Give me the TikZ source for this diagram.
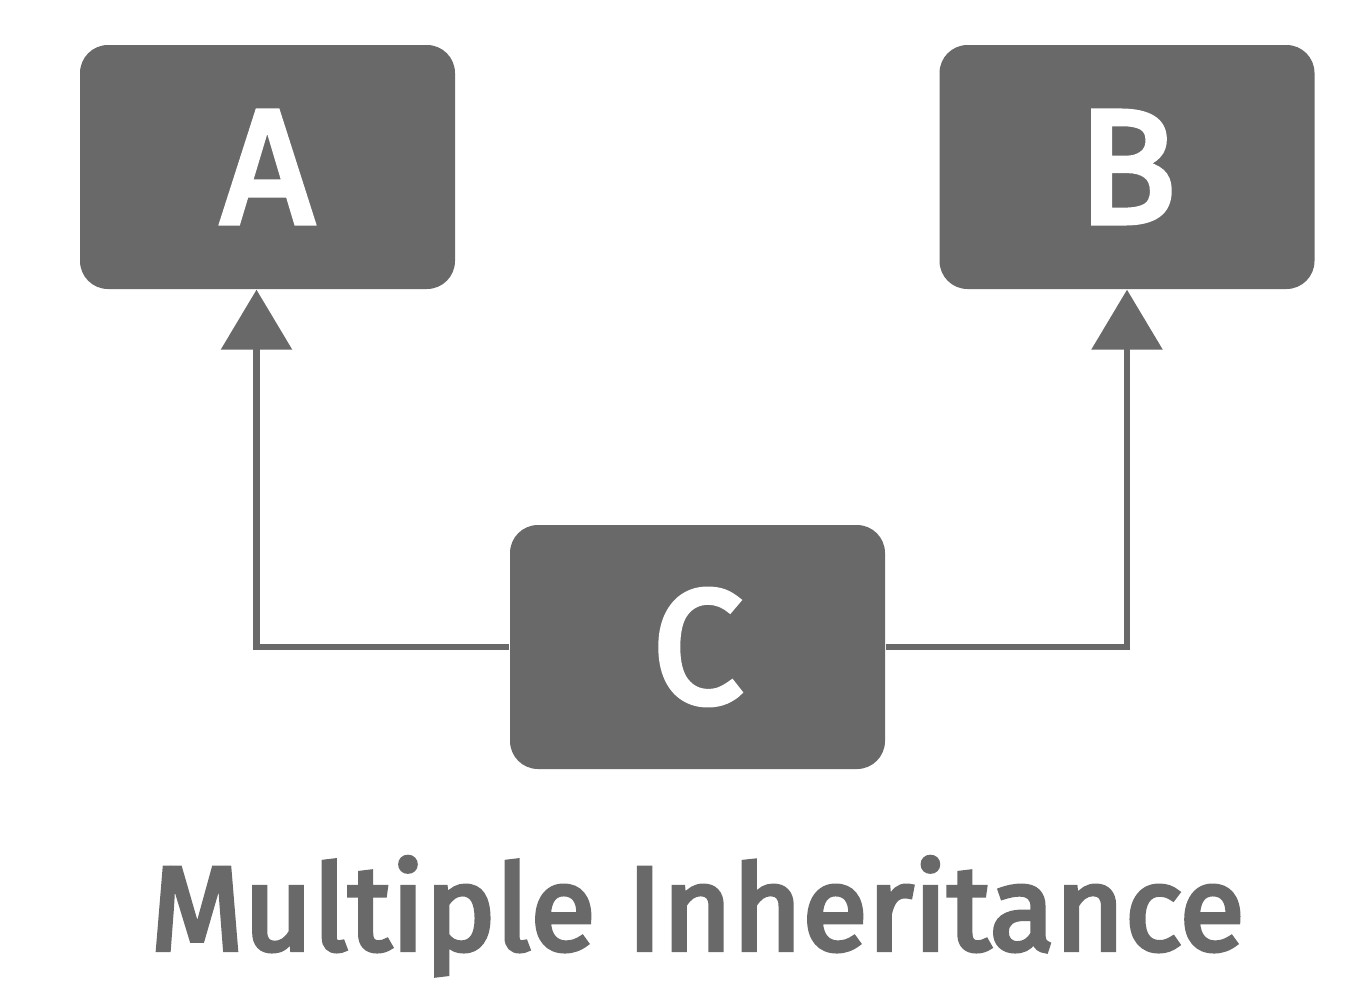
\documentclass[tikz,border=0pt]{standalone}
\usepackage{fontspec}
\setmainfont{Fira Sans}
\newfontfamily\mediumfont{Fira Sans}[FakeBold=3.5]
\usepackage{xcolor}
\usetikzlibrary{
    positioning,
    arrows.meta,
    calc
}
\definecolor{boxgray}{HTML}{686968}
\tikzset{
    % クラスのブロックスタイル
    block/.style={
        rectangle,
        rounded corners=2.8mm,   % 角の丸み
        fill=boxgray,
        draw=none,
        minimum width=3.75cm,
        minimum height=2.44cm,
        text=white,
        font=\mediumfont\fontsize{46}{50}\selectfont
    },
    % 継承の矢印
    arrow/.style={
        -{Triangle[length=6mm, width=7mm]},
        color=boxgray,
        line width=1.8pt
    }
}
\begin{document}
\begin{tikzpicture}
    \useasboundingbox (0,0) rectangle (13.54,-9.84);
    % Classes
    \node[block] (a) at (2.675,-1.67) {A};
    \node[block] (b) at (11.27,-1.67) {B};
    \node[block] (c) at (6.975,-6.47) {C};

    % Inheritance
    \draw[arrow] (c.west) -| ([xshift=-1.1mm]a.south);
    \draw[arrow] (c.east) -| (b.south);

    % Title
    \node[anchor=base, text=boxgray, font=\mediumfont\fontsize{34}{40}\selectfont] (title) at (6.975,-9.50) {Multiple Inheritance};
\end{tikzpicture}
\end{document}
